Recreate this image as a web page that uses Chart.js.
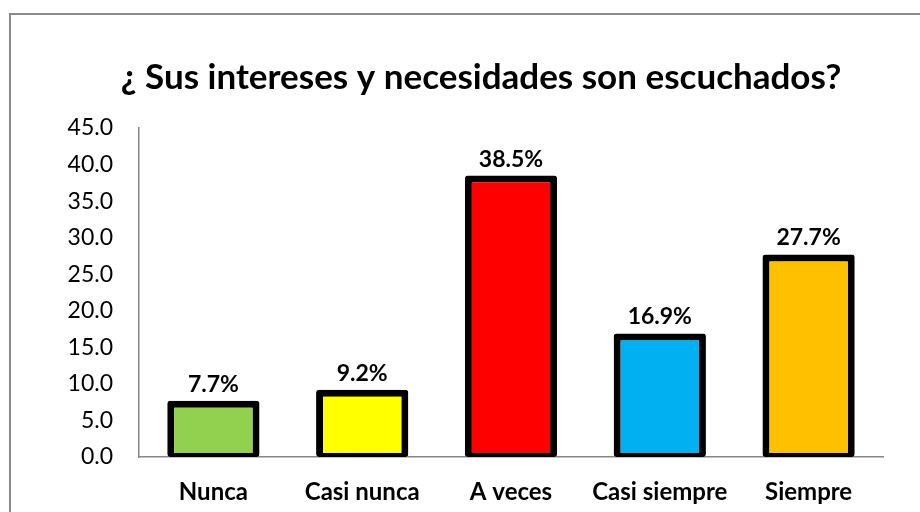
<!DOCTYPE html>
<html>
<head>
<meta charset="utf-8">
<script src="https://cdn.jsdelivr.net/npm/chart.js@4.4.1/dist/chart.umd.min.js"></script>
<style>
    html, body { margin: 0; padding: 0; background: #fff; overflow: hidden; }
    #wrap { position: relative; width: 920px; height: 512px; }
    #frame { position: absolute; left: 9px; top: 13px; width: 1000px; height: 1000px; border: 2px solid #8a8a8a; }
    canvas { position: absolute; left: 0; top: 0; }
</style>
</head>
<body>
<div id="wrap">
    <div id="frame"></div>
    <canvas id="barchart" width="920" height="512"></canvas>
</div>
<script>
const chartTitle = '¿ Sus intereses y necesidades son escuchados?';
const categories = ['Nunca', 'Casi nunca', 'A veces', 'Casi siempre', 'Siempre'];
const values = [7.7, 9.2, 38.5, 16.9, 27.7];
const barColors = ['#92D050', '#FFFF00', '#FF0000', '#00B0F0', '#FFC000'];
const yTicks = [0, 5, 10, 15, 20, 25, 30, 35, 40, 45];

const FONT = 'Lato, "Open Sans", sans-serif';

// title is centred on the whole excel frame, not the plot, so draw it by hand
const titleText = {
    id: 'titleText',
    afterDraw(chart) {
        const ctx = chart.ctx;
        ctx.save();
        ctx.font = 'bold 35px ' + FONT;
        ctx.fillStyle = '#000';
        ctx.textAlign = 'center';
        ctx.textBaseline = 'alphabetic';
        ctx.fillText(chartTitle, 481, 89);
        ctx.restore();
    }
};

// labels over each bar, like excel data labels
const barLabels = {
    id: 'barLabels',
    afterDatasetsDraw(chart) {
        const ctx = chart.ctx;
        const meta = chart.getDatasetMeta(0);
        ctx.save();
        ctx.font = 'bold 23px ' + FONT;
        ctx.fillStyle = '#000';
        ctx.textAlign = 'center';
        ctx.textBaseline = 'alphabetic';
        meta.data.forEach((bar, i) => {
            ctx.fillText(values[i].toFixed(1) + '%', bar.x, bar.y - 9);
        });
        ctx.restore();
    }
};

var ctx = document.getElementById('barchart').getContext('2d');

var chart = new Chart(ctx, {
    type: 'bar',
    data: {
        labels: categories,
        datasets: [{
            data: values,
            backgroundColor: barColors,
            borderColor: '#000',
            borderWidth: { top: 7, left: 7, right: 7, bottom: 4 },
            borderSkipped: false,
            borderRadius: 3,
            barPercentage: 0.62,
            categoryPercentage: 1
        }]
    },
    options: {
        responsive: false,
        devicePixelRatio: 1,
        animation: false,
        layout: {
            padding: { left: 0, right: 37, top: 128, bottom: 0 }
        },
        plugins: {
            legend: { display: false },
            tooltip: { enabled: false },
            title: { display: false }
        },
        scales: {
            y: {
                min: 0,
                max: 45,
                afterBuildTicks: (axis) => {
                    axis.ticks = yTicks.map(v => ({ value: v }));
                },
                afterFit: (axis) => { axis.width = 139; },
                grid: { display: false, drawTicks: false },
                border: { display: true, color: '#868686', width: 1.5 },
                ticks: {
                    color: '#000',
                    padding: 26,
                    font: { family: FONT, size: 23 },
                    callback: (v) => Number(v).toFixed(1)
                }
            },
            x: {
                afterFit: (axis) => { axis.height = 55; },
                grid: { display: false, drawTicks: false },
                border: { display: true, color: '#868686', width: 1.5 },
                ticks: {
                    color: '#000',
                    padding: 21,
                    font: { family: FONT, size: 24, weight: 'bold' }
                }
            }
        }
    },
    plugins: [barLabels, titleText]
});
</script>
</body>
</html>
